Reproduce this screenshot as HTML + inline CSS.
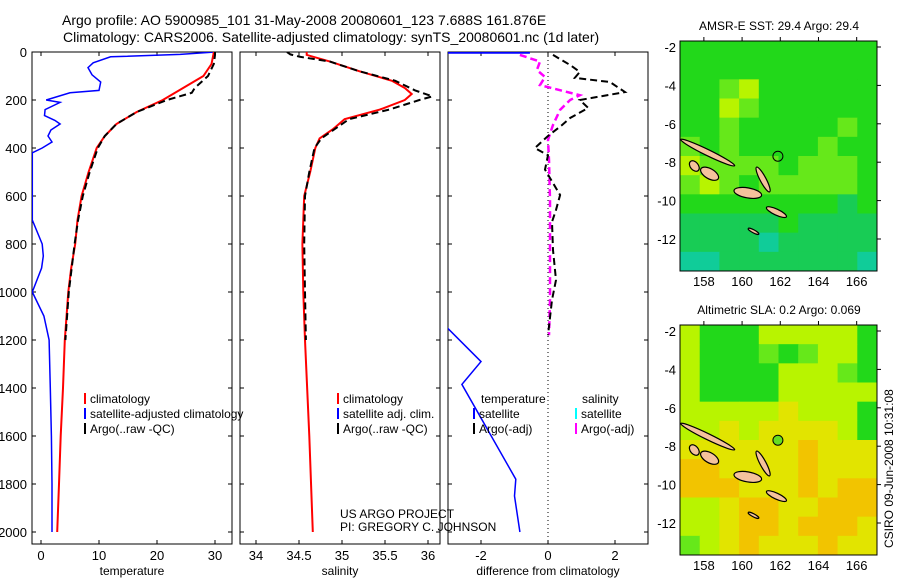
<!DOCTYPE html>
<html><head><meta charset="utf-8"><style>
body{margin:0;background:#fff;}
svg{display:block;font-family:"Liberation Sans",sans-serif;}
</style></head><body>
<svg id="fig" width="900" height="580" viewBox="0 0 900 580" xmlns="http://www.w3.org/2000/svg">
<text x="62" y="25" font-size="14">Argo profile: AO 5900985_101 31-May-2008 20080601_123 7.688S 161.876E</text>
<text x="63" y="42" font-size="14">Climatology: CARS2006. Satellite-adjusted climatology: synTS_20080601.nc (1d later)</text>
<text transform="translate(893,548) rotate(-90)" font-size="12">CSIRO 09-Jun-2008 10:31:08</text>
</svg>
<script>
// ---- data ----
const depthTicks=[0,200,400,600,800,1000,1200,1400,1600,1800,2000];
const tempTicks=[0,10,20,30];
const salTicks=[34,34.5,35,35.5,36];
const diffTicks=[-2,0,2];
const climTD=[0,12,50,100,150,200,250,300,350,400,500,600,700,800,900,1000,1200,1400,1600,1800,2000];
const climT=[29.8,29.7,29.4,28,24.5,21,16.5,13,11,9.6,8.2,7,6.3,5.9,5.2,4.7,4.1,3.8,3.4,3.1,2.8];
const argoTD=[0,12,50,100,150,170,200,250,300,350,400,500,600,700,800,900,1000,1100,1200];
const argoT=[30,30,29.8,28.8,26.5,26,21.7,16.5,13,11,9.8,8.4,7.2,6.4,5.8,5.3,4.8,4.5,4.2];
const satTD=[0,10,20,45,65,95,125,160,170,200,210,240,265,285,300,325,350,375,400,420,700,800,850,900,1000,1100,1200,1400,1600,1800,2000];
const satT=[30,24,12,9,8.1,8.8,10.3,10,5,0.9,3.3,0.7,0.6,2.4,3.3,1.7,1.2,1.9,0.2,-1.5,-1.5,0.2,0.4,0.1,-1.5,0.5,1.4,1.6,1.8,1.9,1.9];
const climSD=[0,12,40,80,120,150,175,200,240,280,320,360,400,500,600,800,1000,1200,1600,2000];
const climS=[34.59,34.59,34.86,35.2,35.58,35.73,35.81,35.73,35.44,35.03,34.9,34.74,34.69,34.63,34.56,34.54,34.55,34.57,34.62,34.66];
const argoSD=[0,10,20,40,80,120,160,185,200,240,280,320,360,400,500,600,800,1000,1200];
const argoS=[34.36,34.4,34.51,34.86,35.2,35.62,35.85,36.05,35.9,35.55,35.08,34.92,34.76,34.68,34.62,34.57,34.56,34.57,34.58];
const dTD=[12,54,83,108,125,167,200,233,275,304,350,400,430,490,596,658,708,825,950,1033,1180];
const dT=[0.15,0.66,0.95,0.8,1.85,2.3,0.95,1.2,0.66,0.42,0,-0.39,0,-0.09,0.36,0.24,0.12,0.15,0.24,0.12,0];
const dSD=[12,40,75,104,138,180,200,241,304,366,450,617,825,1033,1180];
const dS=[-0.84,-0.24,-0.33,-0.09,-0.24,0.95,0.66,0.36,0.15,0,0.03,0.06,0.06,0.06,0.03];
const satDTD=[1150,1290,1385,1780,1850,2000];
const satDT=[-3,-2,-2.57,-0.96,-1.0,-0.84];
const satTopD=[2,2];
const satTopT=[-3,-0.54];
const lonTicks=[158,160,162,164,166];
const latTicks=[-2,-4,-6,-8,-10,-12];
const sstGrid=["gggggggggg","gggggggggg","ggbcgggggg","ggcbgggggg","ggbgggggbg","bgbggggbgg","cbbbbgbbbg","bcbgbbbbbg","gggggggghg","hhhhhghhhh","hhhhthhhhh","tthhhhhhht"];
const slaGrid=["cgggcccccg","cgggbgbccg","cggggcccbg","cggggccccc","cccccdcccg","ccdcddddcg","ddddddeddd","eeddddeddd","eeedddedee","ccdeeddeee","ccdeedeeed","bcdedddedd"];
const argoLon=161.876, argoLat=-7.688;
const palette={g:"#22d81a",b:"#66e81a",c:"#b8f400",d:"#e2e400",e:"#f2c400",h:"#18cc55",t:"#10cc99"};
// ---- helpers ----
const svg=document.getElementById('fig');
const NS="http://www.w3.org/2000/svg";
function mk(tag,attrs,parent){const e=document.createElementNS(NS,tag);for(const k in attrs)e.setAttribute(k,attrs[k]);(parent||svg).appendChild(e);return e;}
const yD=d=>52+d*0.24;
function panel(x0,name,xs,ticks,label,fmt){
  const g=mk('g',{});
  
  
  const r=mk('rect',{x:x0,y:52,width:200,height:492,fill:'#fff',stroke:'#000','stroke-width':1},g);
  
  
  depthTicks.forEach(d=>{mk('line',{x1:x0,x2:x0+4,y1:yD(d),y2:yD(d),stroke:'#000'},g);mk('line',{x1:x0+200,x2:x0+196,y1:yD(d),y2:yD(d),stroke:'#000'},g);
    if(x0<100){const t=mk('text',{x:27,y:yD(d)+5,'font-size':13,'text-anchor':'end'},g);t.textContent=d;
    
    }});
  ticks.forEach(v=>{const x=xs(v);mk('line',{x1:x,x2:x,y1:52,y2:56,stroke:'#000'},g);mk('line',{x1:x,x2:x,y1:544,y2:540,stroke:'#000'},g);
    const t=mk('text',{x:x,y:560,'font-size':13,'text-anchor':'middle'},g);t.textContent=fmt(v);
    
    });
  const l=mk('text',{x:x0+100,y:575,'font-size':12,'text-anchor':'middle'},g);l.textContent=label;
  
  
  return g;
}
function line(xs,vals,depths,color,w,dash,name,clip){
  const pts=vals.map((v,i)=>xs(v).toFixed(1)+','+yD(depths[i]).toFixed(1)).join(' ');
  const p=mk('polyline',{points:pts,fill:'none',stroke:color,'stroke-width':w,'stroke-dasharray':dash||'none','clip-path':clip?'url(#'+clip+')':'none'});
  
  
}
const defs=mk('defs',{});
[[32,'c1'],[240,'c2'],[448,'c3']].forEach(([x,id])=>{const c=mk('clipPath',{id:id},defs);mk('rect',{x:x,y:52,width:200,height:492},c);});
const xT=v=>41+v*5.8, xS=v=>256+(v-34)*86, xDf=v=>548+v*33.5;
panel(32,'temperature-panel',xT,tempTicks,'temperature',v=>v);
panel(240,'salinity-panel',xS,salTicks,'salinity',v=>v);
panel(448,'difference-panel',xDf,diffTicks,'difference from climatology',v=>v);
line(xT,satT,satTD,'#0000ff',1.5,null,'satellite-temperature-line','c1');
line(xT,climT,climTD,'#ff0000',2,null,'climatology-temperature-line','c1');
line(xT,argoT,argoTD,'#000',2,'7,4','argo-temperature-line','c1');
line(xS,climS,climSD,'#ff0000',2,null,'climatology-salinity-line','c2');
line(xS,argoS,argoSD,'#000',2,'7,4','argo-salinity-line','c2');
const zl=mk('line',{x1:548,x2:548,y1:52,y2:544,stroke:'#000','stroke-dasharray':'1,3'});


line(xDf,satTopT,satTopD,'#0000ff',2.5,null,'satellite-diff-top-line','c3');
line(xDf,satDT,satDTD,'#0000ff',1.5,null,'satellite-temperature-diff-line','c3');
line(xDf,dS,dSD,'#ff00ff',2.5,'7,4','argo-salinity-diff-line','c3');
line(xDf,dT,dTD,'#000',2,'7,4','argo-temperature-diff-line','c3');
// legends
function leg(x,y,color,text,name){
  const g=mk('g',{});
  
  
  if(color)mk('line',{x1:x,x2:x,y1:y-10,y2:y+1,stroke:color,'stroke-width':2},g);
  const t=mk('text',{x:x+5,y:y,'font-size':12},g);t.textContent=text;
}
leg(85,403,'#ff0000','climatology','legend-entry-climatology');
leg(85,418,'#0000ff','satellite-adjusted climatology','legend-entry-satellite');
leg(85,433,'#000','Argo(..raw -QC)','legend-entry-argo');
leg(338,403,'#ff0000','climatology','legend-entry-climatology-sal');
leg(338,418,'#0000ff','satellite adj. clim.','legend-entry-satellite-sal');
leg(338,433,'#000','Argo(..raw -QC)','legend-entry-argo-sal');
leg(476,403,null,'temperature','legend-header-temperature');
leg(577,403,null,'salinity','legend-header-salinity');
leg(474,418,'#0000ff','satellite','legend-entry-temp-satellite');
leg(474,433,'#000','Argo(-adj)','legend-entry-temp-argo');
leg(576,418,'#00ffff','satellite','legend-entry-sal-satellite');
leg(576,433,'#ff00ff','Argo(-adj)','legend-entry-sal-argo');
const p1=mk('text',{x:340,y:518,'font-size':12});p1.textContent='US ARGO PROJECT';


const p2=mk('text',{x:340,y:531,'font-size':12});p2.textContent='PI: GREGORY C. JOHNSON';


// maps
function map(y0,grid,name,title,filled){
  const X=lon=>680+(lon-156.75)*19.1, Y=lat=>y0+6+(-2-lat)*19.2;
  const g=mk('g',{});
  
  
  const cp=mk('clipPath',{id:name+'-clip'},defs);mk('rect',{x:680,y:y0,width:197,height:230},cp);
  const gc=mk('g',{'clip-path':'url(#'+name+'-clip)'},g);
  const cw=197/grid[0].length, ch=230/grid.length;
  grid.forEach((row,r)=>[...row].forEach((c,k)=>{
    const cell=mk('rect',{x:680+k*cw,y:y0+r*ch,width:cw+0.5,height:ch+0.5,fill:palette[c]},gc);
    
    
  }));
  const isl=[[158.2,-7.5,30,3,26],[157.5,-8.2,6,4,50],[158.3,-8.6,10,5,30],[161.1,-8.9,14,3,62],[160.3,-9.6,14,5,10],[161.8,-10.6,11,3,25],[160.6,-11.6,6,1.5,28]];
  isl.forEach(([lo,la,rx,ry,a])=>{const e=mk('ellipse',{cx:X(lo),cy:Y(la),rx:rx,ry:ry,fill:'#f5c29c',stroke:'#000','stroke-width':1.2,transform:`rotate(${a} ${X(lo)} ${Y(la)})`},gc);
    
    });
  const m=mk('circle',{cx:X(argoLon),cy:Y(argoLat),r:5,fill:filled?'#66dd22':'none',stroke:'#000'},g);
  
  
  mk('rect',{x:680,y:y0,width:197,height:230,fill:'none',stroke:'#000'},g);
  lonTicks.forEach(v=>{mk('line',{x1:X(v),x2:X(v),y1:y0,y2:y0-4,stroke:'#000'},g);
    const t=mk('text',{x:X(v),y:y0+245,'font-size':13,'text-anchor':'middle'},g);t.textContent=v;
    
    });
  latTicks.forEach(v=>{mk('line',{x1:877,x2:881,y1:Y(v),y2:Y(v),stroke:'#000'},g);
    const t=mk('text',{x:676,y:Y(v)+5,'font-size':13,'text-anchor':'end'},g);t.textContent=v;
    
    });
  const tt=mk('text',{x:779,y:y0-11,'font-size':12,'text-anchor':'middle'},g);tt.textContent=title;
  
  
}
map(41,sstGrid,'sst-map','AMSR-E SST: 29.4 Argo: 29.4',false);
map(325,slaGrid,'sla-map','Altimetric SLA: 0.2 Argo: 0.069',true);
</script>
</body></html>
